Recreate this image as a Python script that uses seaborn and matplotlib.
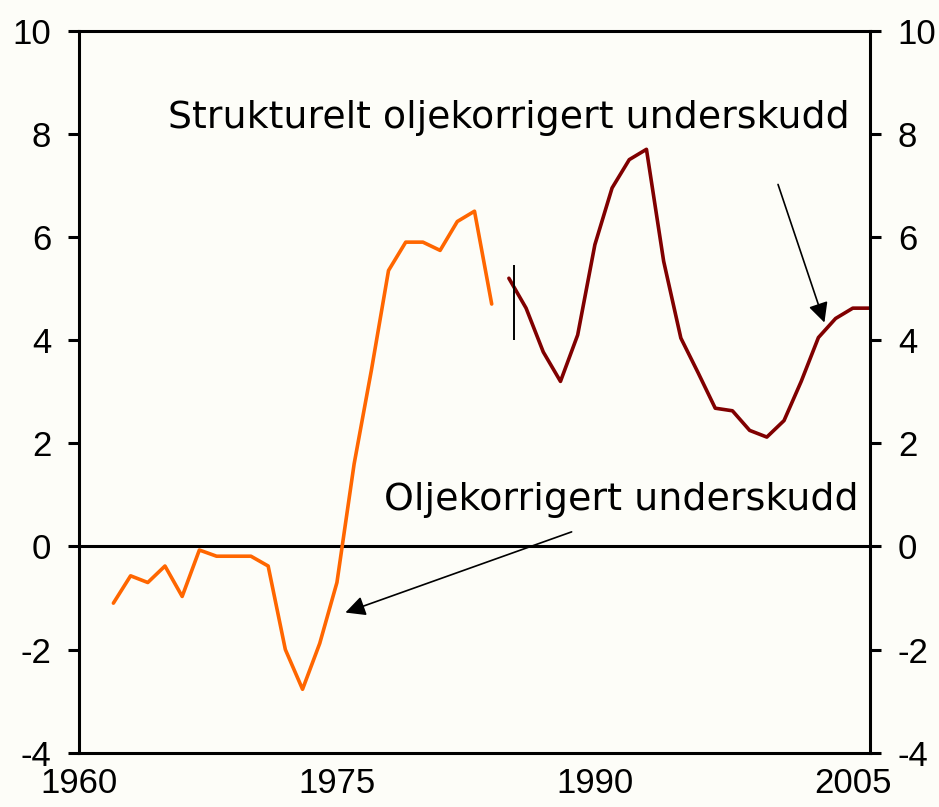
import numpy as np
import pandas as pd
import matplotlib
matplotlib.use("Agg")
import matplotlib.pyplot as plt
import seaborn as sns

# Oljekorrigert underskudd (1962-1984), prosent
olje_years = list(range(1962, 1985))
olje_values = [-1.1, -0.57, -0.70, -0.38, -0.97, -0.07, -0.19, -0.19, -0.19, -0.38,
               -2.0, -2.77, -1.88, -0.70, 1.60, 3.41, 5.35, 5.9, 5.9, 5.74,
               6.3, 6.5, 4.7]

# Strukturelt oljekorrigert underskudd (1985-2006), prosent
strukt_years = list(range(1985, 2007))
strukt_values = [5.2, 4.62, 3.77, 3.2, 4.1, 5.85, 6.95, 7.5, 7.7, 5.53,
                 4.04, 3.37, 2.68, 2.63, 2.25, 2.12, 2.44, 3.2, 4.05, 4.42,
                 4.62, 4.62]

# Brudd-markering
break_x = 1985.3
break_range = [4.0, 5.45]

x_ticks = [1960, 1975, 1990, 2005]
y_ticks = [-4, -2, 0, 2, 4, 6, 8, 10]

bg = "#FDFDF8"
sns.set_theme(style="white")
plt.rcParams["font.family"] = ["Liberation Sans", "DejaVu Sans"]
plt.rcParams["axes.unicode_minus"] = False

fig = plt.figure(figsize=(9.39, 8.07), dpi=100, facecolor=bg)
ax = fig.add_axes([79 / 939, 1 - 752.7 / 807, (870 - 79) / 939, (752.7 - 30.7) / 807])
ax.set_facecolor(bg)

olje = pd.DataFrame({"year": olje_years, "value": olje_values})
strukt = pd.DataFrame({"year": strukt_years, "value": strukt_values})

sns.lineplot(data=olje, x="year", y="value", color="#FF6600", lw=2.6, ax=ax)
sns.lineplot(data=strukt, x="year", y="value", color="#800000", lw=2.6, ax=ax)
ax.axhline(0, color="black", lw=2.2, zorder=1)
ax.vlines(break_x, break_range[0], break_range[1], color="black", lw=1.4)

ax.set_xlim(1960, 2006)
ax.set_ylim(-4, 10)
ax.set_xticks(x_ticks)
ax.set_yticks(y_ticks)
ax.set_xlabel("")
ax.set_ylabel("")

for side in ["left", "right", "top", "bottom"]:
    ax.spines[side].set_visible(True)
    ax.spines[side].set_color("black")
    ax.spines[side].set_linewidth(2.2)

ax.tick_params(axis="y", left=True, right=True, labelleft=True, labelright=True,
               direction="out", length=8, width=2.2, pad=12, labelsize=25, colors="black")
ax.tick_params(axis="x", bottom=False, length=0, pad=10, labelsize=25, colors="black")

# Tekster og piler
ax.text(1985.0, 8.12, "Strukturelt oljekorrigert underskudd", ha="center", va="baseline",
        fontsize=27.3, family="DejaVu Sans", color="black")
ax.annotate("", xy=(2003.4, 4.29), xytext=(2000.6, 7.07),
            arrowprops=dict(arrowstyle="-|>", color="black", lw=1.2, mutation_scale=30))

ax.text(1991.56, 0.70, "Oljekorrigert underskudd", ha="center", va="baseline",
        fontsize=27.4, family="DejaVu Sans", color="black")
ax.annotate("", xy=(1975.34, -1.30), xytext=(1988.8, 0.30),
            arrowprops=dict(arrowstyle="-|>", color="black", lw=1.2, mutation_scale=30))

fig.savefig("out.png", dpi=100, facecolor=bg)
